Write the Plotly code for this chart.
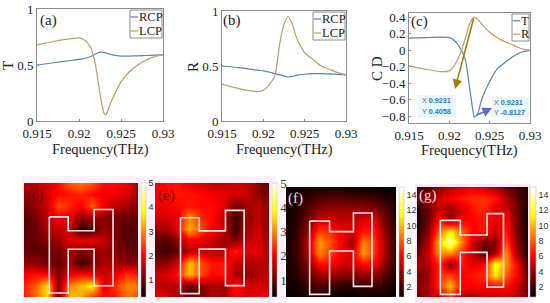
import plotly.graph_objects as go

W, H = 550, 303
SERIF = "Liberation Serif"
SANS = "Liberation Sans"
BLUE = "#5f80b4"
ORANGE = "#c49a63"
GRID = "#8c8c8c"

freq_t = [0.915, 0.917, 0.919, 0.92, 0.9205, 0.921, 0.9215, 0.922, 0.9225, 0.923, 0.9232, 0.9235, 0.924, 0.925, 0.926, 0.927, 0.928, 0.929, 0.93]
t_rcp = [0.50, 0.52, 0.54, 0.55, 0.557, 0.565, 0.58, 0.60, 0.615, 0.612, 0.608, 0.60, 0.59, 0.58, 0.58, 0.582, 0.585, 0.588, 0.59]
t_lcp = [0.68, 0.71, 0.735, 0.742, 0.73, 0.70, 0.635, 0.485, 0.245, 0.065, 0.055, 0.11, 0.20, 0.35, 0.44, 0.50, 0.545, 0.575, 0.59]

freq_r = [0.915, 0.917, 0.919, 0.9195, 0.92, 0.9205, 0.921, 0.9214, 0.922, 0.9225, 0.923, 0.9235, 0.924, 0.925, 0.926, 0.927, 0.928, 0.929, 0.93]
r_rcp = [0.50, 0.485, 0.465, 0.46, 0.455, 0.448, 0.44, 0.43, 0.42, 0.41, 0.40, 0.405, 0.415, 0.425, 0.43, 0.43, 0.428, 0.424, 0.42]
r_lcp = [0.335, 0.295, 0.27, 0.268, 0.28, 0.31, 0.36, 0.41, 0.71, 0.88, 0.95, 0.88, 0.76, 0.62, 0.56, 0.50, 0.47, 0.44, 0.42]

freq_c = [0.915, 0.917, 0.919, 0.92, 0.9205, 0.921, 0.9215, 0.922, 0.9225, 0.923, 0.9231, 0.9235, 0.924, 0.925, 0.926, 0.927, 0.928, 0.929, 0.93]
cd_t = [0.15, 0.155, 0.16, 0.155, 0.13, 0.08, 0.0, -0.12, -0.45, -0.78, -0.8127, -0.78, -0.60, -0.38, -0.22, -0.14, -0.07, -0.02, 0.0]
cd_r = [-0.19, -0.23, -0.26, -0.25, -0.20, -0.12, 0.0, 0.15, 0.32, 0.40, 0.4058, 0.38, 0.32, 0.22, 0.15, 0.10, 0.06, 0.02, 0.0]

freq_ticks = [0.915, 0.92, 0.925, 0.93]
freq_labels = ["0.915", "0.92", "0.925", "0.93"]
tr_ticks = [0, 0.5, 1]
tr_labels = ["0", "0.5", "1"]
cd_ticks = [-0.8, -0.6, -0.4, -0.2, 0, 0.2, 0.4]
cd_labels = ["−0.8", "−0.6", "−0.4", "−0.2", "0", "0.2", "0.4"]

grid_pos = [0, 0.1, 0.2, 0.3, 0.4, 0.5, 0.6, 0.7, 0.8, 0.9, 1]

field_d = [
    [1.5, 1.6, 1.8, 2.1, 2.7, 2.9, 2.6, 2.1, 2.1, 1.9, 1.4],
    [1.3, 1.5, 1.8, 2.1, 2.2, 2.3, 2.1, 2.0, 2.0, 1.8, 1.4],
    [1.1, 1.3, 1.7, 2.6, 2.3, 2.0, 2.7, 1.9, 1.6, 1.4, 1.2],
    [0.9, 1.1, 1.6, 2.0, 1.9, 1.3, 1.5, 1.2, 1.1, 1.0, 1.0],
    [0.9, 1.0, 1.5, 1.7, 1.8, 0.6, 0.8, 1.4, 1.1, 0.9, 0.9],
    [1.0, 1.0, 1.2, 1.4, 1.8, 1.9, 1.9, 1.6, 1.2, 0.9, 0.9],
    [1.0, 0.9, 1.0, 1.1, 1.5, 1.2, 1.3, 1.4, 1.2, 1.0, 0.9],
    [1.3, 1.3, 1.1, 1.0, 1.4, 0.7, 1.1, 1.5, 1.4, 1.3, 1.3],
    [2.0, 2.1, 2.0, 1.2, 1.9, 2.1, 1.9, 1.7, 1.9, 2.4, 2.2],
    [2.3, 2.7, 3.6, 1.2, 3.0, 3.4, 3.8, 1.8, 2.4, 3.0, 2.9],
    [2.2, 2.8, 3.6, 1.0, 3.4, 3.2, 2.4, 2.1, 2.2, 2.8, 2.6],
]
field_e = [
    [2.0, 2.1, 2.2, 1.9, 1.8, 1.6, 1.6, 1.7, 1.6, 1.3, 0.9],
    [2.0, 2.1, 2.2, 2.2, 2.1, 2.0, 1.9, 1.8, 1.7, 1.3, 1.0],
    [2.0, 2.0, 2.1, 2.2, 2.1, 2.1, 1.9, 1.1, 1.4, 1.6, 1.2],
    [1.8, 1.8, 1.9, 3.0, 2.3, 2.1, 1.6, 0.7, 1.3, 1.6, 1.2],
    [1.4, 1.4, 2.0, 3.3, 2.6, 2.0, 1.7, 0.7, 1.4, 1.7, 1.2],
    [1.0, 0.9, 1.3, 2.0, 1.9, 1.7, 1.4, 1.2, 1.6, 1.8, 1.3],
    [0.9, 0.7, 1.0, 1.6, 1.8, 1.5, 1.5, 2.3, 1.9, 1.9, 1.4],
    [1.2, 1.3, 1.8, 3.4, 2.6, 2.2, 2.2, 1.7, 1.5, 1.6, 1.5],
    [1.7, 1.8, 2.2, 3.4, 2.6, 2.1, 2.2, 1.4, 1.3, 1.5, 1.6],
    [1.6, 1.6, 1.5, 0.9, 1.2, 1.5, 1.4, 2.2, 1.8, 1.8, 1.7],
    [2.0, 1.8, 1.5, 1.0, 1.2, 1.5, 1.4, 2.0, 1.8, 2.0, 1.9],
]
field_f = [
    [1.0, 1.0, 1.1, 1.2, 1.2, 1.0, 0.9, 0.8, 0.9, 0.9, 0.9],
    [1.0, 1.2, 1.8, 2.3, 2.5, 2.5, 2.3, 2.3, 2.0, 1.5, 1.0],
    [1.0, 1.5, 2.5, 3.5, 4.0, 4.0, 4.0, 3.8, 3.5, 2.5, 1.2],
    [1.0, 1.6, 3.0, 5.2, 5.2, 4.8, 4.8, 5.4, 5.5, 3.0, 1.4],
    [1.0, 1.8, 3.8, 7.5, 6.8, 5.8, 5.2, 6.5, 6.5, 3.5, 1.5],
    [1.2, 2.0, 4.8, 9.2, 7.8, 5.8, 4.0, 8.8, 7.2, 4.0, 1.5],
    [1.2, 2.0, 4.5, 9.0, 7.2, 5.8, 5.2, 9.4, 7.2, 4.0, 1.6],
    [1.2, 1.8, 3.5, 6.2, 6.2, 5.2, 5.2, 6.2, 6.0, 3.5, 1.5],
    [1.1, 1.5, 2.8, 4.0, 4.0, 3.5, 3.5, 3.8, 3.7, 2.5, 1.2],
    [1.0, 1.2, 1.8, 2.3, 2.0, 1.5, 1.5, 1.8, 2.0, 1.6, 1.0],
    [0.9, 1.0, 1.1, 1.3, 1.1, 0.7, 0.7, 0.9, 1.0, 1.0, 0.9],
]
field_g = [
    [2.0, 2.5, 3.5, 4.5, 5.0, 5.5, 5.0, 4.0, 3.0, 2.0, 1.5],
    [3.0, 4.0, 5.0, 6.0, 6.5, 7.0, 7.0, 6.5, 4.5, 2.5, 1.5],
    [1.5, 3.0, 5.0, 4.0, 5.0, 6.5, 7.0, 5.5, 5.0, 3.0, 1.0],
    [1.2, 3.0, 6.5, 3.5, 6.0, 6.0, 6.5, 5.5, 6.0, 3.0, 1.0],
    [1.5, 3.5, 8.0, 11.0, 8.0, 6.0, 6.5, 5.0, 6.5, 3.0, 1.0],
    [2.0, 4.5, 10.0, 14.0, 9.0, 5.0, 3.0, 3.5, 7.5, 3.5, 1.0],
    [3.0, 5.0, 9.0, 9.0, 7.0, 4.5, 2.5, 4.0, 9.0, 4.0, 1.2],
    [4.0, 4.5, 7.0, 3.5, 6.5, 5.5, 6.0, 12.0, 9.0, 6.0, 2.0],
    [3.0, 4.0, 7.0, 7.5, 6.0, 6.5, 7.0, 11.0, 8.0, 6.0, 2.5],
    [3.5, 4.5, 7.0, 10.0, 6.0, 6.0, 6.0, 6.0, 6.5, 5.0, 3.0],
    [3.0, 4.0, 5.0, 7.0, 4.5, 4.0, 5.0, 5.0, 5.0, 4.5, 3.0],
]

# H-shaped antenna outline, in map coordinates (x1, x2, x3, x4, left top, left bottom, right top, right bottom, bar top, bar bottom)
outline_d = [0.222, 0.388, 0.615, 0.781, 0.703, 0.035, 0.767, 0.099, 0.581, 0.419]
outline_e = [0.224, 0.388, 0.618, 0.782, 0.695, 0.030, 0.760, 0.100, 0.580, 0.420]
outline_f = [0.215, 0.396, 0.613, 0.782, 0.690, 0.024, 0.764, 0.097, 0.594, 0.418]
outline_g = [0.211, 0.390, 0.631, 0.779, 0.697, 0.024, 0.758, 0.090, 0.564, 0.406]

HOT = [[0, "#000000"], [0.375, "#ff0000"], [0.75, "#ffff00"], [1, "#ffffff"]]


def px(x):
    return x / W


def py(y):
    return 1 - y / H


fig = go.Figure()
layout = dict(
    width=W, height=H, margin=dict(l=0, r=0, t=0, b=0, autoexpand=False), autosize=False,
    paper_bgcolor="white", plot_bgcolor="white", showlegend=False,
    font=dict(family=SERIF, color="#222222", size=14),
)
shapes = []
annotations = []


def note(x, y, text, size=14, color="#222222", family=SERIF, angle=0, xanchor="center"):
    annotations.append(dict(
        xref="paper", yref="paper", x=px(x), y=py(y), text=text, showarrow=False,
        font=dict(size=size, color=color, family=family), textangle=angle,
        xanchor=xanchor, yanchor="middle", borderpad=0,
    ))


def line_panel(idx, box, xs, series, yrange, yticks, ylabels, ytitle, ytitle_x, tag, tag_xy, legend_names, legend_box):
    name = "" if idx == 1 else str(idx)
    l, r, t, b = box
    layout[f"xaxis{name}"] = dict(
        domain=[px(l), px(r)], range=[0.915, 0.93], tickvals=freq_ticks, ticktext=freq_labels,
        anchor=f"y{name}", showgrid=False, zeroline=False, showline=True, mirror=True,
        linecolor=GRID, linewidth=1, ticks="inside", ticklen=2, tickcolor=GRID,
        tickfont=dict(size=13, family=SERIF, color="#222222"), tickangle=0,
    )
    layout[f"yaxis{name}"] = dict(
        domain=[py(b), py(t)], range=yrange, tickvals=yticks, ticktext=ylabels,
        anchor=f"x{name}", showgrid=False, zeroline=False, showline=True, mirror=True,
        linecolor=GRID, linewidth=1, ticks="inside", ticklen=2, tickcolor=GRID,
        tickfont=dict(size=13, family=SERIF, color="#222222"),
    )
    for values, color, label in zip(series, (BLUE, ORANGE), legend_names):
        fig.add_trace(go.Scatter(
            x=xs, y=values, mode="lines", name=label, xaxis=f"x{name}", yaxis=f"y{name}",
            line=dict(color=color, width=1.2, shape="spline", smoothing=0.6), hoverinfo="skip",
        ))
    note((l + r) / 2, b + 28, "Frequency(THz)", size=14.5)
    note(ytitle_x, (t + b) / 2 + 1, ytitle, size=15, angle=-90)
    note(tag_xy[0], tag_xy[1], tag, size=15)
    # compact legend box
    lx0, lx1, ly0, ly1 = legend_box
    shapes.append(dict(type="rect", xref="paper", yref="paper", x0=px(lx0), x1=px(lx1), y0=py(ly0), y1=py(ly1),
                       line=dict(color=GRID, width=1), fillcolor="white", layer="above"))
    row_h = (ly1 - ly0) / 2
    for i, (color, label) in enumerate(zip((BLUE, ORANGE), legend_names)):
        yc = ly0 + row_h * (i + 0.5)
        shapes.append(dict(type="line", xref="paper", yref="paper", x0=px(lx0 + 0.5), x1=px(lx0 + 8), y0=py(yc), y1=py(yc),
                           line=dict(color=color, width=1.2), layer="above"))
        note(lx0 + 8, yc, label, size=12.5, xanchor="left")


line_panel(1, (37, 163, 9, 121), freq_t, (t_rcp, t_lcp), [0, 1], tr_ticks, tr_labels, "T", 8, "(a)", (48, 20),
           ("RCP", "LCP"), (130, 162, 10, 38))
line_panel(2, (222, 346, 11, 121), freq_r, (r_rcp, r_lcp), [0, 1], tr_ticks, tr_labels, "R", 193, "(b)", (232, 20),
           ("RCP", "LCP"), (313, 345, 12, 40))
line_panel(3, (409, 530, 13, 123), freq_c, (cd_t, cd_r), [-0.885, 0.455], cd_ticks, cd_labels, "C D", 377, "(c)", (419, 22),
           ("T", "R"), (512, 529, 14, 41))

# C D data tips and their arrows
arrow_tips = [
    (455, 89, 474, 17, "#a37f12"),
    (492, 108, 475, 116, "#5b68c8"),
]
for hx, hy, tx, ty, col in arrow_tips:
    annotations.append(dict(
        xref="paper", yref="paper", axref="pixel", ayref="pixel",
        x=px(hx), y=py(hy), ax=tx - hx, ay=ty - hy, text="", showarrow=True,
        arrowhead=2, arrowsize=1.2, arrowwidth=1.6, arrowcolor=col,
    ))
for (x0, x1, y0, y1) in [(418, 456, 95, 118), (492, 530, 97, 117)]:
    shapes.append(dict(type="rect", xref="paper", yref="paper", x0=px(x0), x1=px(x1), y0=py(y0), y1=py(y1),
                       line=dict(width=0), fillcolor="#e9f8fb", layer="below"))
tip = "<span style='color:#666'>{}</span> <b style='color:#2f6fd0'>{}</b>"
note(421, 101, tip.format("X", "0.9231"), size=7.2, family=SANS, xanchor="left")
note(421, 111, tip.format("Y", "0.4058"), size=7.2, family=SANS, xanchor="left")
note(493, 102, tip.format("X", "0.9231"), size=7.2, family=SANS, xanchor="left")
note(493, 112, tip.format("Y", "-0.8127"), size=7.2, family=SANS, xanchor="left")

# pale halo around the maps
for (x0, x1, y0, y1, col) in [(22, 276, 176, 303, "#fdf1fb"), (275, 285, 183, 303, "#fdf1fb"), (415, 531, 184, 303, "#fde6f6")]:
    shapes.append(dict(type="rect", xref="paper", yref="paper", x0=px(x0), x1=px(x1), y0=py(y0), y1=py(y1),
                       line=dict(width=0), fillcolor=col, layer="below"))


def map_panel(idx, box, field, outline, zrange, cbar_x, cbar_w, ticks, tick_font, tag, tag_xy, tag_color):
    name = str(idx)
    l, r, t, b = box
    layout[f"xaxis{name}"] = dict(domain=[px(l), px(r)], range=[0, 1], visible=False, anchor=f"y{name}", fixedrange=True)
    layout[f"yaxis{name}"] = dict(domain=[py(b), py(t)], range=[0, 1], visible=False, anchor=f"x{name}", fixedrange=True)
    fig.add_trace(go.Heatmap(
        x=grid_pos, y=grid_pos, z=field[::-1], zmin=zrange[0], zmax=zrange[1], zsmooth="best",
        colorscale=HOT, xaxis=f"x{name}", yaxis=f"y{name}", hoverinfo="skip",
        colorbar=dict(
            x=px(cbar_x), xanchor="left", xref="paper", y=py(b), yanchor="bottom", yref="paper",
            len=(b - t) / H, lenmode="fraction", thickness=cbar_w, thicknessmode="pixels",
            tickvals=ticks, ticktext=[str(v) for v in ticks], ticks="", outlinewidth=0.5, outlinecolor="#bbbbbb",
            tickfont=tick_font, xpad=0, ypad=0, borderwidth=0,
        ),
    ))
    x1, x2, x3, x4, lt, lb, rt, rb, bt, bb = outline
    hx = [x1, x2, x2, x3, x3, x4, x4, x3, x3, x2, x2, x1, x1]
    hy = [lt, lt, bt, bt, rt, rt, rb, rb, bb, bb, lb, lb, lt]
    fig.add_trace(go.Scatter(
        x=hx, y=hy, mode="lines", xaxis=f"x{name}", yaxis=f"y{name}", hoverinfo="skip",
        line=dict(color="#fde3ea", width=1.6),
    ))
    note(tag_xy[0], tag_xy[1], tag, size=15, color=tag_color)


sans_ticks = dict(size=9, family=SANS, color="#333333")
serif_ticks = dict(size=13, family=SERIF, color="#333333")
map_panel(4, (24, 138, 183, 297), field_d, outline_d, (0.3, 5), 141, 5, [1, 2, 3, 4, 5], sans_ticks, "(d)", (35, 196), "#6a0c0c")
map_panel(5, (155, 269, 183, 297), field_e, outline_e, (0.3, 5), 272, 5, [1, 2, 3, 4, 5], serif_ticks, "(e)", (166, 195), "#6a0c0c")
map_panel(6, (286, 396, 187, 297), field_f, outline_f, (0.7, 15), 399, 5, [2, 4, 6, 8, 10, 12, 14], sans_ticks, "(f)", (295, 198), "#f5dcdc")
map_panel(7, (417, 528, 187, 297), field_g, outline_g, (0.7, 15), 530, 6, [2, 4, 6, 8, 10, 12, 14], sans_ticks, "(g)", (428, 196), "#f5dcdc")

layout["shapes"] = shapes
layout["annotations"] = annotations
fig.update_layout(**layout)
fig.write_html("out.html", config={"displayModeBar": False}, post_script="document.body.style.margin='0';")
